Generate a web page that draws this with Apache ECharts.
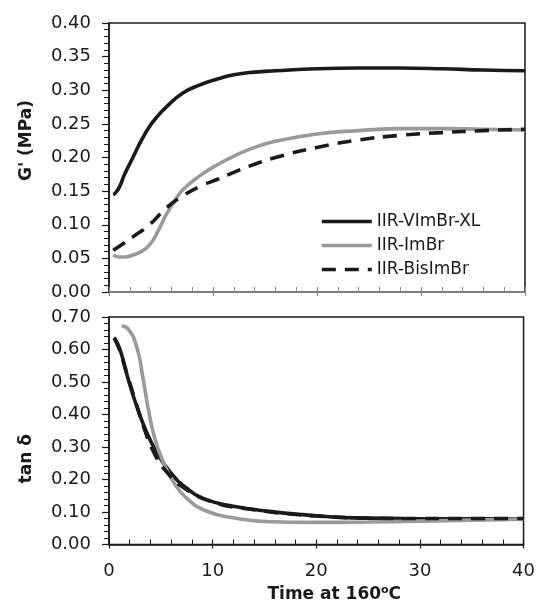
<!DOCTYPE html>
<html lang="en">
<head>
<meta charset="utf-8">
<title>G' and tan delta vs time</title>
<style>
  html, body { margin: 0; padding: 0; background: #fff; }
  #chart { width: 538px; height: 604px; }
</style>
</head>
<body>
<div id="chart"></div>
<script src="https://cdn.jsdelivr.net/npm/echarts@6/dist/echarts.min.js"></script>
<script>
// series names
var names = ['IIR-VImBr-XL', 'IIR-ImBr', 'IIR-BisImBr'];

// top panel: G' (MPa)
var tG_xl  = [0.4, 0.6, 1.0, 1.5, 2.3, 3.1, 3.9, 4.7, 5.5, 7.1, 8.75, 10.5, 12, 14, 16, 20, 24, 28, 32, 36, 40];
var g_xl   = [0.145, 0.147, 0.156, 0.175, 0.200, 0.225, 0.246, 0.262, 0.275, 0.296, 0.308, 0.317, 0.323, 0.327, 0.329, 0.332, 0.333, 0.333, 0.332, 0.330, 0.329];
var tG_im  = [0.4, 1.0, 1.5, 2.3, 3.1, 3.9, 4.7, 5.5, 6.3, 7.1, 8.75, 10.5, 12, 14, 16, 20, 24, 28, 32, 36, 40];
var g_im   = [0.055, 0.052, 0.052, 0.055, 0.060, 0.070, 0.090, 0.115, 0.135, 0.152, 0.173, 0.190, 0.202, 0.215, 0.224, 0.235, 0.240, 0.243, 0.243, 0.242, 0.241];
var tG_bis = [0.4, 1.0, 2.3, 3.9, 5.5, 7.1, 8.75, 10.5, 12, 14, 16, 20, 24, 28, 32, 36, 40];
var g_bis  = [0.062, 0.068, 0.082, 0.100, 0.125, 0.143, 0.157, 0.168, 0.178, 0.190, 0.200, 0.215, 0.226, 0.233, 0.237, 0.240, 0.242];

// bottom panel: tan delta
var tD_xl  = [0.5, 1.06, 1.86, 2.66, 3.62, 4.58, 5.87, 7.47, 9.4, 12, 15.5, 18.7, 23.5, 28.3, 34, 40];
var d_xl   = [0.637, 0.600, 0.508, 0.427, 0.346, 0.285, 0.224, 0.174, 0.138, 0.118, 0.102, 0.092, 0.082, 0.080, 0.079, 0.079];
var tD_im  = [1.22, 1.8, 2.66, 3.3, 3.79, 4.42, 5.22, 6.19, 7.47, 9.4, 12, 15.5, 20, 25, 30, 35, 40];
var d_im   = [0.672, 0.665, 0.610, 0.508, 0.417, 0.326, 0.255, 0.194, 0.143, 0.103, 0.082, 0.070, 0.068, 0.069, 0.072, 0.075, 0.078];
var tD_bis = [0.5, 1.0, 1.7, 2.5, 3.3, 4.3, 5.55, 7.47, 10.3, 13.8, 17, 21, 25, 30, 35, 40];
var d_bis  = [0.635, 0.600, 0.528, 0.447, 0.366, 0.285, 0.224, 0.169, 0.128, 0.108, 0.095, 0.086, 0.081, 0.080, 0.080, 0.080];

// axis ranges
var xMin = 0, xMax = 40, xStep = 10;
var gMin = 0, gMax = 0.4, gStep = 0.05;
var dMin = 0, dMax = 0.7, dStep = 0.1;

var INK = '#1a1a1a';
var GREY = '#9a9a9a';
var FONT = 'DejaVu Sans';

function pairs(t, v) {
  return t.map(function (x, i) { return [x, v[i]]; });
}

var chart = echarts.init(document.getElementById('chart'));

function mainX(grid, withLabels, lineColor) {
  return {
    type: 'value', gridIndex: grid, position: 'bottom', min: xMin, max: xMax, interval: xStep,
    axisLine: { show: true, lineStyle: { color: lineColor, width: 1.5 } },
    axisTick: { show: true, inside: false, length: 4, lineStyle: { color: lineColor, width: 1.2 } },
    axisLabel: { show: withLabels, fontFamily: FONT, fontSize: 18, color: INK, margin: 18 },
    splitLine: { show: false },
    name: withLabels ? 'Time at 160{sup|o}C' : '',
    nameLocation: 'middle', nameGap: 40,
    nameTextStyle: {
      fontFamily: FONT, fontSize: 17, fontWeight: 'bold', color: INK, padding: [0, 0, 0, 36],
      rich: { sup: { fontFamily: FONT, fontSize: 11, fontWeight: 'bold', color: INK, verticalAlign: 'top', padding: [0, 0, 9, 0] } }
    }
  };
}
function innerX(grid, lineColor) {
  return {
    type: 'value', gridIndex: grid, position: 'bottom', min: xMin, max: xMax, interval: xStep,
    axisLine: { show: false },
    axisTick: { show: true, inside: true, length: 5, lineStyle: { color: lineColor, width: 1.2 } },
    minorTick: { show: true, splitNumber: 5, length: 5, lineStyle: { color: lineColor, width: 1 } },
    axisLabel: { show: false }, splitLine: { show: false }
  };
}
function mainY(grid, min, max, step, name, namePad) {
  return {
    type: 'value', gridIndex: grid, position: 'left', min: min, max: max, interval: step,
    axisLine: { show: true, lineStyle: { color: INK, width: 1.5 } },
    axisTick: { show: true, inside: false, length: 7, lineStyle: { color: INK, width: 1.2 } },
    axisLabel: { fontFamily: FONT, fontSize: 18, color: INK, margin: 18,
      formatter: function (v) { return v.toFixed(2); } },
    splitLine: { show: false },
    name: name, nameLocation: 'middle', nameGap: 74,
    nameTextStyle: { fontFamily: FONT, fontSize: 17, fontWeight: 'bold', color: INK, padding: namePad }
  };
}
function innerY(grid, min, max, step) {
  return {
    type: 'value', gridIndex: grid, position: 'left', min: min, max: max, interval: step,
    axisLine: { show: false },
    axisTick: { show: false },
    minorTick: { show: true, splitNumber: 5, length: 5, lineStyle: { color: INK, width: 1 } },
    axisLabel: { show: false }, splitLine: { show: false }
  };
}

function line(name, data, xi, yi, color, dashed) {
  return {
    name: name, type: 'line', xAxisIndex: xi, yAxisIndex: yi,
    data: data, symbol: 'none', showSymbol: false,
    smooth: 0.5,
    lineStyle: { color: color, width: 3.6, type: dashed ? [14, 9] : 'solid' },
    itemStyle: { color: color },
    z: dashed ? 3 : 2
  };
}

var option = {
  animation: false,
  backgroundColor: '#fff',
  grid: [
    { left: 109, top: 23, width: 416, height: 269, show: true, borderColor: INK, borderWidth: 1.5, backgroundColor: 'transparent' },
    { left: 109, top: 317, width: 416, height: 230, show: true, borderColor: INK, borderWidth: 1.5, backgroundColor: 'transparent' }
  ],
  legend: {
    data: names, orient: 'vertical', left: 320, top: 213, padding: 0,
    itemWidth: 50, itemHeight: 14, itemGap: 7,
    itemStyle: { opacity: 0 },
    lineStyle: { width: 3.6 },
    textStyle: { fontFamily: FONT, fontSize: 17, color: INK }
  },
  xAxis: [mainX(0, false, '#8a8a8a'), innerX(0, '#8a8a8a'), mainX(1, true, INK), innerX(1, INK)],
  yAxis: [
    mainY(0, gMin, gMax, gStep, "G' (MPa)", [0, 0, 0, 34]), innerY(0, gMin, gMax, gStep),
    mainY(1, dMin, dMax, dStep, 'tan δ', [0, 56, 0, 0]), innerY(1, dMin, dMax, dStep)
  ],
  series: [
    line(names[0], pairs(tG_xl, g_xl), 0, 0, INK, false),
    line(names[1], pairs(tG_im, g_im), 0, 0, GREY, false),
    line(names[2], pairs(tG_bis, g_bis), 0, 0, INK, true),
    line(names[0], pairs(tD_xl, d_xl), 2, 2, INK, false),
    line(names[1], pairs(tD_im, d_im), 2, 2, GREY, false),
    line(names[2], pairs(tD_bis, d_bis), 2, 2, INK, true)
  ]
};
chart.setOption(option);
</script>
</body>
</html>
